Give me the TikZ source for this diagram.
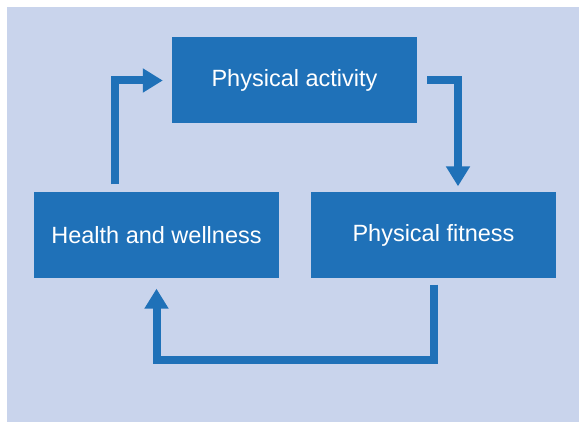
\documentclass[tikz,border=0pt]{standalone}
\usepackage{fontspec}
\setsansfont{Liberation Sans}
\usetikzlibrary{positioning, arrows.meta, calc}
\definecolor{clrblock}{HTML}{1F71B8}
\definecolor{clrback}{HTML}{C9D4EC}
\definecolor{clrtext}{HTML}{FFFFFF}

\begin{document}
\begin{tikzpicture}[
    x=1pt, y=-1pt,
    every node/.style={font=\sffamily},
    block/.style={fill=clrblock, minimum width=245pt, minimum height=86pt,
                  inner sep=0pt, font=\sffamily\fontsize{23.5}{28}\selectfont,
                  text=clrtext},
    arrow/.style={-{Triangle[width=23pt, length=20pt]}, color=clrblock,
                  line width=8pt, line join=miter},
]
\useasboundingbox (0,0) rectangle (579,422);
\fill[clrback] (7,7) rectangle (579,422);
\node[block] (n_1) at (294.5,80.5) {Physical activity};
\node[block] (n_2) at (433.5,235.5) {Physical fitness};
\node[block] (n_3) at (156.5,235.5) {Health and wellness};
% loop of arrows
\draw[arrow] ([xshift=10pt]n_1.east) -| ([xshift=24.5pt, yshift=6pt]n_2.north);
\draw[arrow] ([yshift=-6pt]n_2.south) -- ++(0,75) -| ([yshift=-10pt]n_3.south);
\draw[arrow] ([xshift=-41.5pt, yshift=8pt]n_3.north) |- ([xshift=-9pt]n_1.west);
\end{tikzpicture}
\end{document}
